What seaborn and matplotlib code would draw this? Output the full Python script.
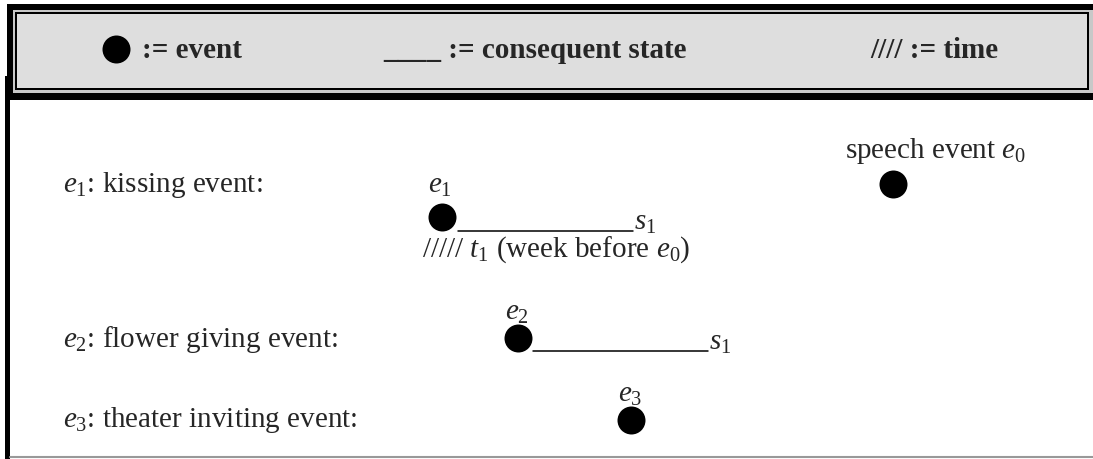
import matplotlib
matplotlib.use("Agg")
import matplotlib.pyplot as plt
from matplotlib.patches import Rectangle
import pandas as pd
import seaborn as sns

# legend entries in the grey header box
legend_texts = [":= event", "____ := consequent state", "//// := time"]

# rows of the diagram
row_labels = [r"$\mathit{e}_{\mathit{1}}$: kissing event:",
              r"$\mathit{e}_{\mathit{2}}$: flower giving event:",
              r"$\mathit{e}_{\mathit{3}}$: theater inviting event:"]
row_baseline = [192, 347, 427]

# events (dots) in page pixel coords
event_names = [r"$\mathit{e}_{\mathit{1}}$", r"$\mathit{e}_{\mathit{2}}$",
               r"$\mathit{e}_{\mathit{3}}$", "e0"]
event_x = [442, 518, 631, 893]
event_y = [217, 338, 420, 184]

# consequent states: start, end, y
state_start = [458, 533]
state_end = [633, 708]
state_y = [231, 351]
state_label = [r"$\mathit{s}_{\mathit{1}}$", r"$\mathit{s}_{\mathit{1}}$"]

sns.set_style("white")
plt.rcParams['font.family'] = ['Liberation Serif', 'DejaVu Serif']
plt.rcParams['mathtext.fontset'] = 'custom'
plt.rcParams['mathtext.rm'] = 'Liberation Serif'
plt.rcParams['mathtext.it'] = 'Liberation Serif:italic'
plt.rcParams['mathtext.bf'] = 'Liberation Serif:bold'

fig = plt.figure(figsize=(10.93, 4.59), dpi=100)
ax = fig.add_axes([0, 0, 1, 1])

# frame of the header
ax.add_patch(Rectangle((7, 4), 1086, 96, color="black", lw=0))
ax.add_patch(Rectangle((13, 10), 1080, 83, color="#c8c8c8", lw=0))
ax.add_patch(Rectangle((15, 12), 1074, 78, color="black", lw=0))
ax.add_patch(Rectangle((17, 14), 1070, 74, color="#dedede", lw=0))
ax.add_patch(Rectangle((5, 76), 5, 383, color="black", lw=0))
ax.plot([10, 1093], [457, 457], color="#999999", lw=1.5)

# header legend
ax.scatter([116], [49], s=406, color="black", lw=0, zorder=3)
for x, t in zip([142, 383, 870], legend_texts):
    ax.text(x, 58, t, fontsize=21, fontweight="bold", va="baseline", ha="left")

# rows
for lab, yb in zip(row_labels, row_baseline):
    ax.text(63, yb, lab, fontsize=21, va="baseline", ha="left")

# event dots
df_events = pd.DataFrame({"name": event_names, "x": event_x, "y": event_y})
sns.scatterplot(data=df_events, x="x", y="y", s=406, color="black",
                linewidth=0, ax=ax, zorder=3, legend=False)
ax.set_xlim(0, 1093)
ax.set_ylim(459, 0)
ax.axis('off')

# event labels above dots
ax.text(428, 193, event_names[0], fontsize=21, va="baseline", ha="left")
ax.text(505, 320, event_names[1], fontsize=21, va="baseline", ha="left")
ax.text(618, 402, event_names[2], fontsize=21, va="baseline", ha="left")
ax.text(845, 158, r"speech event $\mathit{e}_{\mathit{0}}$", fontsize=21,
        va="baseline", ha="left")

# consequent state lines
for x0, x1, y, lab in zip(state_start, state_end, state_y, state_label):
    ax.plot([x0, x1], [y, y], color="black", lw=1.1)
    ax.text(x1 + 1, y - 1, lab, fontsize=21, va="baseline", ha="left")

# time of e1
ax.text(422, 257, r"///// $\mathit{t}_{\mathit{1}}$ (week before $\mathit{e}_{\mathit{0}}$)",
        fontsize=21, va="baseline", ha="left")

fig.savefig("out.png", dpi=100)
